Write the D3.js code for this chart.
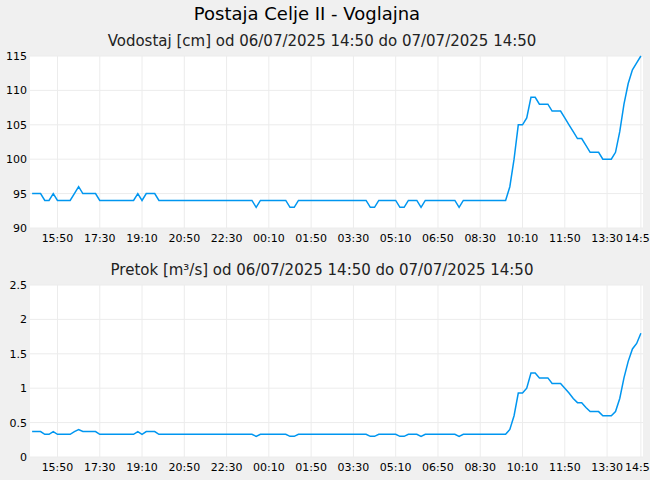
<!DOCTYPE html>
<html><head><meta charset="utf-8">
<script src="https://cdn.jsdelivr.net/npm/d3@7"></script>
<style>body{margin:0;background:#f0f0f0;font-family:"DejaVu Sans",sans-serif}</style>
</head><body><div id="div_svg"></div>
<script>
var startTime = new Date(2025, 6, 6, 14, 50);
var stepMin = 10;
var level = [95,95,95,94,94,95,94,94,94,94,95,96,95,95,95,95,
  94,94,94,94,94,94,94,94,94,95,94,95,95,95,
  94,94,94,94,94,94,94,94,94,94,94,94,94,94,94,94,94,94,94,94,94,94,94,
  93,94,94,94,94,94,94,94,93,93,
  94,94,94,94,94,94,94,94,94,94,94,94,94,94,94,94,94,93,93,
  94,94,94,94,94,93,93,94,94,94,93,94,94,94,94,94,94,94,94,93,
  94,94,94,94,94,94,94,94,94,94,94,
  96,100,105,105,106,109,109,108,108,108,107,107,107,106,105,104,103,103,102,101,101,101,100,100,100,101,104,108,111,113,114,115];
var flow = [0.37,0.37,0.37,0.33,0.33,0.37,0.33,0.33,0.33,0.33,0.37,0.40,0.37,0.37,0.37,0.37,
  0.33,0.33,0.33,0.33,0.33,0.33,0.33,0.33,0.33,0.37,0.33,0.37,0.37,0.37,
  0.33,0.33,0.33,0.33,0.33,0.33,0.33,0.33,0.33,0.33,0.33,0.33,0.33,0.33,0.33,0.33,0.33,0.33,0.33,0.33,0.33,0.33,0.33,
  0.30,0.33,0.33,0.33,0.33,0.33,0.33,0.33,0.30,0.30,
  0.33,0.33,0.33,0.33,0.33,0.33,0.33,0.33,0.33,0.33,0.33,0.33,0.33,0.33,0.33,0.33,0.33,0.30,0.30,
  0.33,0.33,0.33,0.33,0.33,0.30,0.30,0.33,0.33,0.33,0.30,0.33,0.33,0.33,0.33,0.33,0.33,0.33,0.33,0.30,
  0.33,0.33,0.33,0.33,0.33,0.33,0.33,0.33,0.33,0.33,0.33,
  0.40,0.60,0.93,0.93,1.00,1.22,1.22,1.15,1.15,1.15,1.07,1.07,1.07,1.00,0.93,0.85,0.79,0.79,0.72,0.66,0.66,0.66,0.60,0.60,0.60,0.66,0.85,1.15,1.39,1.57,1.65,1.80];
var tickLabels = ["15:50","17:30","19:10","20:50","22:30","00:10","01:50","03:30","05:10","06:50","08:30","10:10","11:50","13:30","14:50"];
var tickOffsets = [60,160,260,360,460,560,660,760,860,960,1060,1160,1260,1360,1440];
var levelTicks = [90,95,100,105,110,115];
var flowTicks = [0,0.5,1,1.5,2,2.5];

var W = 650, H = 480;
var svg = d3.select("#div_svg").append("svg").attr("width", W).attr("height", H);
svg.append("rect").attr("width", W).attr("height", H).attr("fill", "#f0f0f0");
svg.append("text").attr("x", 307).attr("y", 20).attr("text-anchor", "middle")
  .attr("font-size", 18).text("Postaja Celje II - Voglajna");

var x = d3.scaleTime()
  .domain([d3.timeMinute.offset(startTime, -5), d3.timeMinute.offset(startTime, 24 * 60 + 5)])
  .range([30, 643]);
var tickDates = tickOffsets.map(function(m) { return d3.timeMinute.offset(startTime, m); });

function panel(top, bottom, title, values, yTicks, fmt) {
  var y = d3.scaleLinear().domain([yTicks[0], yTicks[yTicks.length - 1]]).range([bottom, top]);
  svg.append("text").attr("x", 322).attr("y", top - 10).attr("text-anchor", "middle")
    .attr("font-size", 15).attr("fill", "#222").text(title);
  svg.append("rect").attr("x", 30).attr("y", top).attr("width", 613).attr("height", bottom - top).attr("fill", "#fff");
  var g = svg.append("g");
  g.selectAll(".hy").data(yTicks).enter().append("line")
    .attr("x1", 30).attr("x2", 643).attr("y1", function(d) { return y(d); }).attr("y2", function(d) { return y(d); })
    .style("stroke", "#ececec");
  g.selectAll(".vx").data(tickDates).enter().append("line")
    .attr("x1", function(d) { return x(d); }).attr("x2", function(d) { return x(d); })
    .attr("y1", top).attr("y2", bottom).style("stroke", "#ececec");
  g.selectAll(".ty").data(yTicks).enter().append("text")
    .attr("x", 27).attr("y", function(d) { return y(d) + 4; }).attr("text-anchor", "end")
    .attr("font-size", 11).text(fmt);
  g.selectAll(".tx").data(tickDates).enter().append("text")
    .attr("x", function(d) { return x(d); }).attr("y", bottom + 14).attr("text-anchor", "middle")
    .attr("font-size", 11).text(function(d, i) { return tickLabels[i]; });
  var line = d3.line()
    .x(function(d, i) { return x(d3.timeMinute.offset(startTime, i * stepMin)); })
    .y(function(d) { return y(d); });
  svg.append("path").datum(values).attr("d", line).attr("fill", "none")
    .style("stroke", "#0096f0").style("stroke-width", 1.5);
}

panel(56, 228, "Vodostaj [cm] od 06/07/2025 14:50 do 07/07/2025 14:50", level, levelTicks, function(d) { return d; });
panel(285, 457, "Pretok [m³/s] od 06/07/2025 14:50 do 07/07/2025 14:50", flow, flowTicks, function(d) { return d; });
</script></body></html>
